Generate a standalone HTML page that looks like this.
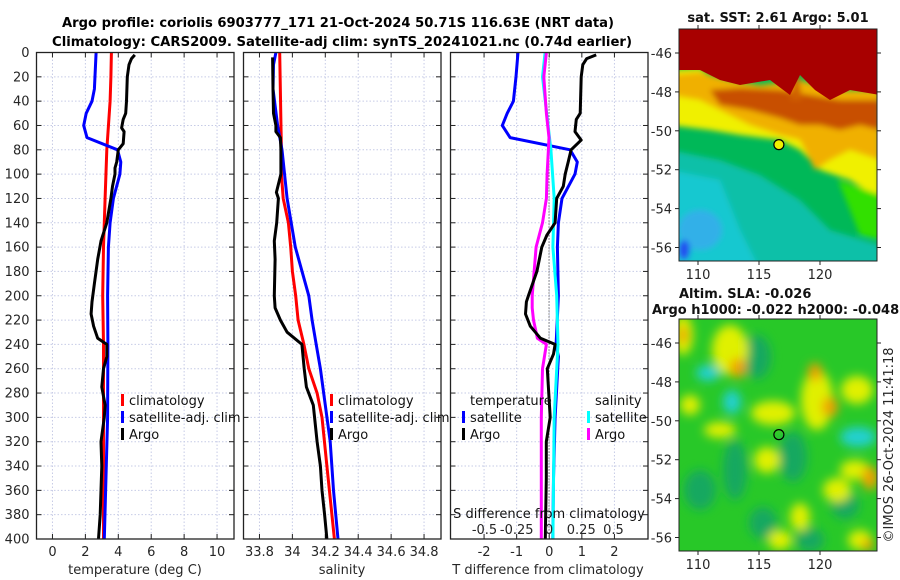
<!DOCTYPE html>
<html><head><meta charset="utf-8">
<style>
html,body{margin:0;padding:0;background:#fff;}
svg{display:block;font-family:"DejaVu Sans","Liberation Sans",sans-serif;}
</style></head>
<body>
<svg id="fig" width="900" height="580" viewBox="0 0 900 580" xmlns="http://www.w3.org/2000/svg">
<defs>
<filter id="blur2" x="-20%" y="-20%" width="140%" height="140%"><feGaussianBlur stdDeviation="3"/></filter>
<filter id="blur4" x="-50%" y="-50%" width="200%" height="200%"><feGaussianBlur stdDeviation="5"/></filter>
<clipPath id="clipTop"><rect x="679" y="29" width="198" height="232"/></clipPath>
<clipPath id="clipBot"><rect x="679" y="319" width="198" height="232"/></clipPath>
</defs>
<text x="338" y="27" text-anchor="middle" font-weight="bold" font-size="13" textLength="552" lengthAdjust="spacingAndGlyphs">Argo profile: coriolis 6903777_171 21-Oct-2024 50.71S 116.63E (NRT data)</text>
<text x="342" y="46" text-anchor="middle" font-weight="bold" font-size="13" textLength="580" lengthAdjust="spacingAndGlyphs">Climatology: CARS2009. Satellite-adj clim: synTS_20241021.nc (0.74d earlier)</text>
<g id="plots"></g>
<g id="maps"></g>
</svg>
<script>
// ---- Data ----
const depthTicks = [0,20,40,60,80,100,120,140,160,180,200,220,240,260,280,300,320,340,360,380,400];
const tempTicks = [0,2,4,6,8,10];
const salTicks = [33.8,34,34.2,34.4,34.6,34.8];
const salTickLabels = ["33.8","34","34.2","34.4","34.6","34.8"];
const tdiffTicks = [-2,-1,0,1,2];
const sdiffTicks = [-0.5,-0.25,0,0.25,0.5];
const sdiffTickLabels = ["-0.5","-0.25","0","0.25","0.5"];

const tClimDepth = [0,20,40,80,120,160,200,240,300,400];
const tClim = [3.58,3.55,3.5,3.3,3.2,3.1,3.05,3.1,3.1,3.1];
const tSatDepth = [0,30,40,50,60,70,80,90,100,120,140,160,200,240,300,400];
const tSat = [2.65,2.55,2.4,2.05,1.9,2.1,3.95,4.15,4.1,3.7,3.5,3.4,3.35,3.37,3.35,3.15];
const tArgoDepth = [2,5,10,20,40,50,55,62,65,75,80,90,95,100,110,120,140,155,170,190,205,215,225,235,240,250,260,275,290,300,320,340,360,380,400];
const tArgo = [5.0,4.8,4.65,4.55,4.5,4.45,4.3,4.2,4.35,4.3,4.0,3.9,3.8,3.8,3.65,3.55,3.3,2.95,2.75,2.55,2.4,2.35,2.5,2.75,3.3,3.3,3.1,3.0,3.2,3.15,2.95,3.0,2.95,2.9,2.8];

const sClimDepth = [0,80,100,120,140,160,180,200,220,240,260,280,300,340,400];
const sClim = [33.923,33.933,33.933,33.944,33.976,33.99,34.0,34.02,34.035,34.07,34.1,34.15,34.18,34.21,34.255];
const sSatDepth = [0,10,30,60,80,120,160,200,220,240,260,290,320,360,400];
const sSat = [33.9,33.885,33.882,33.91,33.937,33.968,34.018,34.1,34.12,34.145,34.17,34.2,34.23,34.25,34.277];
const sArgoDepth = [4,30,50,60,65,70,80,100,115,120,140,155,170,200,210,220,230,240,260,275,290,320,340,360,380,400];
const sArgo = [33.88,33.882,33.885,33.9,33.9,33.927,33.93,33.93,33.903,33.915,33.905,33.89,33.895,33.89,33.895,33.927,33.968,34.058,34.072,34.085,34.127,34.15,34.17,34.18,34.196,34.21];

const dTSatDepth = [0,20,40,50,60,70,80,90,100,120,140,160,200,240,250,300,350,400];
const dTSat = [-0.96,-1.02,-1.1,-1.29,-1.44,-1.2,0.64,0.86,0.79,0.39,0.28,0.25,0.28,0.21,0.28,0.18,0.13,0.11];
const dTArgoDepth = [2,5,10,20,50,55,65,72,80,90,100,110,120,140,150,160,180,200,205,215,225,235,240,248,260,300,320,350,400];
const dTArgo = [1.44,1.15,1.03,0.98,0.95,0.83,0.79,0.98,0.67,0.58,0.49,0.43,0.23,0.18,-0.07,-0.23,-0.38,-0.64,-0.7,-0.73,-0.58,-0.27,0.18,0.13,-0.06,0.03,-0.09,-0.09,-0.12];
const dSSatDepth = [0,20,80,120,160,200,240,300,400];
const dSSat = [-0.03,-0.05,0.015,0.04,0.03,0.06,0.07,0.04,0.03];
const dSArgoDepth = [0,20,50,70,80,100,120,140,160,200,210,220,235,240,260,300,400];
const dSArgo = [-0.02,-0.04,-0.02,0,-0.005,-0.015,-0.02,-0.05,-0.1,-0.13,-0.13,-0.12,-0.09,-0.02,-0.05,-0.06,-0.06];

const lonTicks = [110,115,120];
const latTicks = [-46,-48,-50,-52,-54,-56];
const argoLon = 116.63, argoLat = -50.71;

// ---- Helpers ----
const NS = "http://www.w3.org/2000/svg";
const fig = document.getElementById('plots');
function mk(tag, attrs, parent){ const e=document.createElementNS(NS,tag); for(const k in attrs) e.setAttribute(k,attrs[k]); (parent||fig).appendChild(e); return e; }
const TOP=52.5, BOT=539;
const yD = d => TOP + d*(BOT-TOP)/400;

function panel(name, x0, x1, xmin, xmax){
  const g = mk('g',{});
  
  
  const sx = v => x0 + (v-xmin)*(x1-x0)/(xmax-xmin);
  return {g, sx, x0, x1};
}
function grid(p, xt, showYLabels){
  xt.forEach(v=>{ const l=mk('line',{x1:p.sx(v),x2:p.sx(v),y1:TOP,y2:BOT,stroke:'#c6cbe6','stroke-width':1,'stroke-dasharray':'1.5,2'},p.g);
     
    mk('line',{x1:p.sx(v),x2:p.sx(v),y1:TOP,y2:TOP+5,stroke:'#222'},p.g);
    mk('line',{x1:p.sx(v),x2:p.sx(v),y1:BOT,y2:BOT-5,stroke:'#222'},p.g);});
  depthTicks.forEach(d=>{ const l=mk('line',{x1:p.x0,x2:p.x1,y1:yD(d),y2:yD(d),stroke:'#c6cbe6','stroke-width':1,'stroke-dasharray':'1.5,2'},p.g);
     
    mk('line',{x1:p.x0,x2:p.x0+5,y1:yD(d),y2:yD(d),stroke:'#222'},p.g);
    mk('line',{x1:p.x1,x2:p.x1-5,y1:yD(d),y2:yD(d),stroke:'#222'},p.g);
    if(showYLabels){ const t=mk('text',{x:p.x0-7,y:yD(d)+4.5,'text-anchor':'end','font-size':13,fill:'#262626'},p.g); t.textContent=d;
        }
  });
}
function frame(p){ const r=mk('rect',{x:p.x0,y:TOP,width:p.x1-p.x0,height:BOT-TOP,fill:'none',stroke:'#222','stroke-width':1.3},p.g);
    }
function line(p, xs, ds, color, name){
  const pts = xs.map((v,i)=>p.sx(v).toFixed(1)+','+yD(ds[i]).toFixed(1)).join(' ');
  const l = mk('polyline',{points:pts,fill:'none',stroke:color,'stroke-width':3,'stroke-linejoin':'round'},p.g);
  
  
}
function xlabels(p, ticks, labels, y){
  ticks.forEach((v,i)=>{ const t=mk('text',{x:p.sx(v),y:y,'text-anchor':'middle','font-size':13,fill:'#262626'},p.g); t.textContent=labels?labels[i]:v;
      });
}
function txt(parent,x,y,s,name,extra){ const t=mk('text',Object.assign({x:x,y:y,'font-size':13,fill:'#111'},extra||{}),parent); t.textContent=s;
    return t; }
function legMark(parent,x,y,color,name){ const r=mk('rect',{x:x,y:y-11,width:3,height:12,fill:color},parent);
    }

// Panel 1: temperature
const p1 = panel('temperature-panel', 36.5, 234, -0.97, 11.03);
grid(p1, tempTicks, true);
line(p1, tClim, tClimDepth, '#ff0000', 'climatology-temperature-line');
line(p1, tSat, tSatDepth, '#0000ff', 'satellite-temperature-line');
line(p1, tArgo, tArgoDepth, '#000000', 'argo-temperature-line');
frame(p1);
xlabels(p1, tempTicks, null, 556);
txt(p1.g, 135, 574, 'temperature (deg C)', 'x-axis-title-temperature', {'text-anchor':'middle',fill:'#262626'});
legMark(p1.g,121,405,'#ff0000','legend-climatology-marker'); txt(p1.g,129,405,'climatology','legend-climatology');
legMark(p1.g,121,422,'#0000ff','legend-satellite-marker'); txt(p1.g,129,422,'satellite-adj. clim','legend-satellite-adj');
legMark(p1.g,121,439,'#000000','legend-argo-marker'); txt(p1.g,129,439,'Argo','legend-argo');

// Panel 2: salinity
const p2 = panel('salinity-panel', 243.5, 441, 33.703, 34.903);
grid(p2, salTicks, false);
line(p2, sClim, sClimDepth, '#ff0000', 'climatology-salinity-line');
line(p2, sSat, sSatDepth, '#0000ff', 'satellite-salinity-line');
line(p2, sArgo, sArgoDepth, '#000000', 'argo-salinity-line');
frame(p2);
xlabels(p2, salTicks, salTickLabels, 556);
txt(p2.g, 342, 574, 'salinity', 'x-axis-title-salinity', {'text-anchor':'middle',fill:'#262626'});
legMark(p2.g,330,405,'#ff0000','legend-climatology-marker'); txt(p2.g,338,405,'climatology','legend-climatology');
legMark(p2.g,330,422,'#0000ff','legend-satellite-marker'); txt(p2.g,338,422,'satellite-adj. clim','legend-satellite-adj');
legMark(p2.g,330,439,'#000000','legend-argo-marker'); txt(p2.g,338,439,'Argo','legend-argo');

// Panel 3: differences
const p3 = panel('difference-panel', 450.5, 648, -3.03, 3.03);
const p3s = {g:p3.g, x0:p3.x0, x1:p3.x1, sx: v => 549 + v*129};
grid(p3, tdiffTicks, false);
const z = mk('line',{x1:549,x2:549,y1:TOP,y2:BOT,stroke:'#333','stroke-width':1,'stroke-dasharray':'1,2'},p3.g);
 
line(p3, dTSat, dTSatDepth, '#0000ff', 'satellite-temperature-diff-line');
line(p3s, dSSat, dSSatDepth, '#00ffff', 'satellite-salinity-diff-line');
line(p3s, dSArgo, dSArgoDepth, '#ff00ff', 'argo-salinity-diff-line');
line(p3, dTArgo, dTArgoDepth, '#000000', 'argo-temperature-diff-line');
frame(p3);
xlabels(p3, tdiffTicks, null, 556);
xlabels(p3s, sdiffTicks, sdiffTickLabels, 534);
txt(p3.g, 549, 518, 'S difference from climatology', 'x-axis-title-sdiff', {'text-anchor':'middle'});
txt(p3.g, 548, 574, 'T difference from climatology', 'x-axis-title-tdiff', {'text-anchor':'middle',fill:'#262626'});
txt(p3.g,470,405,'temperature','legend-temperature-heading');
legMark(p3.g,462,422,'#0000ff','legend-t-satellite-marker'); txt(p3.g,470,422,'satellite','legend-t-satellite');
legMark(p3.g,462,439,'#000000','legend-t-argo-marker'); txt(p3.g,470,439,'Argo','legend-t-argo');
txt(p3.g,595,405,'salinity','legend-salinity-heading');
legMark(p3.g,587,422,'#00ffff','legend-s-satellite-marker'); txt(p3.g,595,422,'satellite','legend-s-satellite');
legMark(p3.g,587,439,'#ff00ff','legend-s-argo-marker'); txt(p3.g,595,439,'Argo','legend-s-argo');

// ---- Maps ----
const maps = document.getElementById('maps');
function mapAxes(y0, y1, latTop, name){
  const g = mk('g',{},maps);
   
  const sx = lon => 698 + (lon-110)*12.2;
  const sy = lat => latTop + (-46-lat)*19.45;
  lonTicks.forEach(v=>{ mk('line',{x1:sx(v),x2:sx(v),y1:y0,y2:y0-4,stroke:'#222'},g); mk('line',{x1:sx(v),x2:sx(v),y1:y1,y2:y1+4,stroke:'#222'},g);
    txt(g, sx(v), y1+18, String(v), 'lon-tick-label', {'text-anchor':'middle',fill:'#262626'}); });
  latTicks.forEach(v=>{ mk('line',{x1:679,x2:675,y1:sy(v),y2:sy(v),stroke:'#222'},g); mk('line',{x1:877,x2:881,y1:sy(v),y2:sy(v),stroke:'#222'},g);
    txt(g, 672, sy(v)+5, String(v), 'lat-tick-label', {'text-anchor':'end',fill:'#262626'}); });
  mk('rect',{x:679,y:y0,width:198,height:y1-y0,fill:'none',stroke:'#222','stroke-width':1},g);
  return {sx, sy};
}
// top SST map
const gT = mk('g',{'clip-path':'url(#clipTop)'},maps);
 
mk('rect',{x:679,y:29,width:198,height:232,fill:'#00b858'},gT);
const gTb = mk('g',{filter:'url(#blur2)'},gT);
mk('polygon',{points:'670,150 720,160 760,175 800,200 830,230 880,245 880,270 670,270',fill:'#10c0a8'},gTb);
mk('polygon',{points:'670,170 720,180 740,230 760,270 670,270',fill:'#18c8d0'},gTb);
mk('ellipse',{cx:700,cy:230,rx:22,ry:20,fill:'#30b0e8'},gTb);
mk('ellipse',{cx:684,cy:250,rx:6,ry:10,fill:'#2050f0'},gTb);
mk('polygon',{points:'670,70 700,68 730,90 760,120 790,135 820,150 850,150 880,150 880,200 850,180 835,175 820,170 800,150 780,140 740,135 710,130 670,125',fill:'#f0f000'},gTb);
mk('polygon',{points:'838,180 880,195 880,240 860,235',fill:'#30e000'},gTb);
mk('polygon',{points:'670,75 700,72 730,80 760,85 800,80 840,90 880,90 880,160 850,150 830,160 815,170 800,140 780,135 750,125 720,110 700,100 670,95',fill:'#f0b000'},gTb);
mk('polygon',{points:'710,90 740,88 780,90 810,95 840,100 880,100 880,130 860,125 840,130 820,125 800,125 780,118 750,110 720,105',fill:'#c85000'},gTb);
mk('polygon',{points:'670,29 880,29 880,95 850,90 830,100 815,90 800,75 790,95 770,80 740,85 720,80 700,70 670,70',fill:'#a80000'},gT);
mk('polygon',{points:'790,100 797,65 802,100',fill:'#d06000'},gTb);
const mt = mapAxes(29, 261, 53, 'sst-map');
const ptT = mk('circle',{cx:mt.sx(argoLon),cy:mt.sy(argoLat),r:5,fill:'#f0f000',stroke:'#000','stroke-width':1.2},maps);
 
txt(maps, 778, 22, 'sat. SST: 2.61 Argo: 5.01', 'sst-map-title', {'text-anchor':'middle','font-weight':'bold'});
txt(maps, 679, 298, 'Altim. SLA: -0.026', 'sla-map-title-1', {'font-weight':'bold'});
txt(maps, 652, 314, 'Argo h1000: -0.022 h2000: -0.048', 'sla-map-title-2', {'font-weight':'bold'});

// bottom SLA map
const gB = mk('g',{'clip-path':'url(#clipBot)'},maps);
 
mk('rect',{x:679,y:319,width:198,height:232,fill:'#28c828'},gB);
const gBb = mk('g',{filter:'url(#blur4)'},gB);
[[757,357,14,22],[793,457,14,25],[700,490,16,20],[763,523,14,16],[735,470,12,30],[845,505,14,14],[810,540,14,12]].forEach(e=>mk('ellipse',{cx:e[0],cy:e[1],rx:e[2],ry:e[3],fill:'#14a860'},gBb));
[[730,350,18,25],[773,413,22,12],[767,460,13,13],[817,400,16,30],[857,390,16,14],[837,490,14,12],[800,517,10,14],[683,335,10,20],[855,470,15,10],[720,430,16,8],[690,405,10,10],[860,540,12,10],[780,540,12,10]].forEach(e=>mk('ellipse',{cx:e[0],cy:e[1],rx:e[2],ry:e[3],fill:'#e0f000'},gBb));
[[738,368,8,10],[815,372,7,9],[830,407,8,10],[870,478,8,12],[683,335,5,9],[868,545,6,6]].forEach(e=>mk('ellipse',{cx:e[0],cy:e[1],rx:e[2],ry:e[3],fill:'#f0a000'},gBb));
[[708,373,12,8],[732,402,9,12],[858,437,18,10]].forEach(e=>mk('ellipse',{cx:e[0],cy:e[1],rx:e[2],ry:e[3],fill:'#20d0d0'},gBb));
const mb = mapAxes(319, 551, 343, 'sla-map');
const ptB = mk('circle',{cx:mb.sx(argoLon),cy:mb.sy(argoLat),r:5,fill:'none',stroke:'#000','stroke-width':1.2},maps);
 
const cp = txt(maps, 0, 0, '©IMOS 26-Oct-2024 11:41:18', 'copyright-timestamp', {'text-anchor':'middle',fill:'#262626',transform:'translate(893,445) rotate(-90)'});
</script>
</body></html>
